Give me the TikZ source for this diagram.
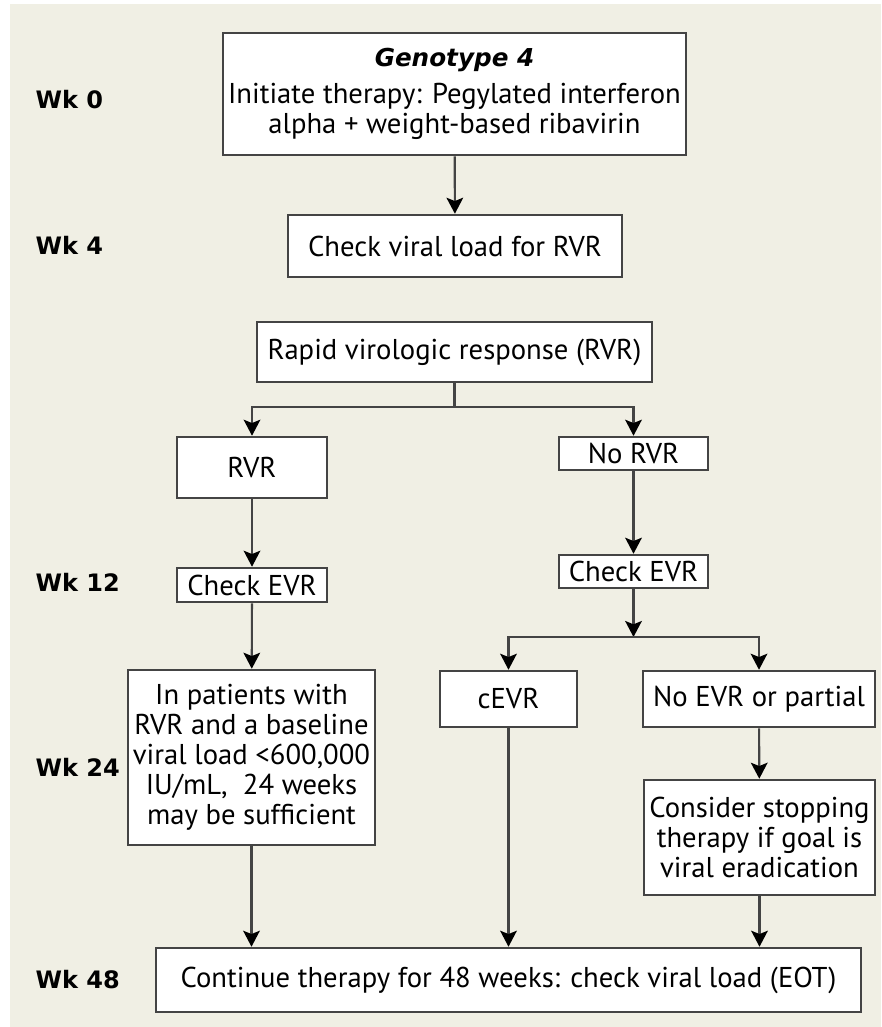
\documentclass[tikz,border=0pt]{standalone}
\usepackage{fontspec}
\setmainfont{PT Sans}
\newfontfamily\wkfont{DejaVu Sans}
\usepackage{tikz}
\newcommand{\px}{0.75pt}
\definecolor{bgBeige}{RGB}{240,239,228}
\definecolor{boxGray}{RGB}{68,68,68}
\usetikzlibrary{arrows.meta,positioning}
\tikzset{
  >={Stealth[length=12pt,width=12.5pt,inset=2.5pt,color=black]},
  font=\fontsize{21.5}{22.5}\selectfont,
  rect/.style={draw=boxGray,fill=white,line width=1.9pt,shape=rectangle,inner sep=0,align=center},
  wk/.style={anchor=west,font=\wkfont\bfseries\fontsize{18}{18}\selectfont},
  line/.style={draw=boxGray,line width=1.6pt,->},
}

\begin{document}
\begin{tikzpicture}[x=\px,y=-\px]
      \useasboundingbox (0,0) rectangle (881,1027);
      \fill [bgBeige] (10,4) rectangle (881,1027);
      % week labels
      \node (wk0) [wk] at (31,100) {Wk 0};
      \node (wk4) [wk] at (31,245) {Wk 4};
      \node (wk12) [wk] at (31,582) {Wk 12};
      \node (wk24) [wk] at (31,767) {Wk 24};
      \node (wk48) [wk] at (31,980) {Wk 48};
      % boxes
      \node (geno) [rect,minimum width=463*\px,minimum height=122*\px] at (454.5,94)
        {{\wkfont\bfseries\itshape\fontsize{18.5}{18.5}\selectfont Genotype 4}\\[5pt]
         Initiate therapy: Pegylated interferon\\alpha + weight-based ribavirin};
      \node (check) [rect,minimum width=334*\px,minimum height=62*\px] at (455,246) {Check viral load for RVR};
      \node (rapid) [rect,minimum width=395*\px,minimum height=60*\px] at (454.5,352) {Rapid virologic response (RVR)};
      \node (rvr) [rect,minimum width=150*\px,minimum height=61*\px] at (252,467.5) {RVR};
      \node (norvr) [rect,minimum width=149*\px,minimum height=33*\px] at (633.5,453.5) {No RVR};
      \node (evrA) [rect,minimum width=150*\px,minimum height=34*\px] at (252,585) {Check EVR};
      \node (evrB) [rect,minimum width=149*\px,minimum height=33*\px] at (633.5,571.5) {Check EVR};
      \node (patients) [rect,minimum width=247*\px,minimum height=175*\px] at (251.5,757.5)
        {In patients with\\RVR and a baseline\\viral load <600,000\\IU/mL,~ 24 weeks\\may be sufficient};
      \node (cevr) [rect,minimum width=137*\px,minimum height=56*\px] at (508.5,699) {cEVR};
      \node (noevr) [rect,minimum width=232*\px,minimum height=56*\px] at (759,699) {No EVR or partial};
      \node (stop) [rect,minimum width=231*\px,minimum height=115*\px] at (759.5,837.5)
        {Consider stopping\\therapy if goal is\\viral eradication};
      \node (cont) [rect,minimum width=705*\px,minimum height=64*\px] at (508.5,980)
        {Continue therapy for 48 weeks: check viral load (EOT)};
      % branch points
      \coordinate (fork1) at (454.5,407);
      \coordinate (fork2) at (633.5,637);
      % connectors
      \path [line,->] (geno) -- (check);
      \path [line,->] (rapid) -- (fork1) -| (rvr.north);
      \path [line,->] (fork1) -| (norvr.north);
      \path [line,->] (rvr) -- (evrA);
      \path [line,->] (norvr) -- (evrB);
      \path [line,->] (evrA) -- (patients);
      \path [line,->] (evrB) -- (fork2);
      \path [line,->] (fork2) -| (cevr.north);
      \path [line,->] (fork2) -| (noevr.north);
      \path [line,->] (noevr) -- (stop);
      \path [line,->] (patients) -- (patients.south |- cont.north);
      \path [line,->] (cevr) -- (cevr.south |- cont.north);
      \path [line,->] (stop) -- (stop.south |- cont.north);
    \end{tikzpicture}
\end{document}
